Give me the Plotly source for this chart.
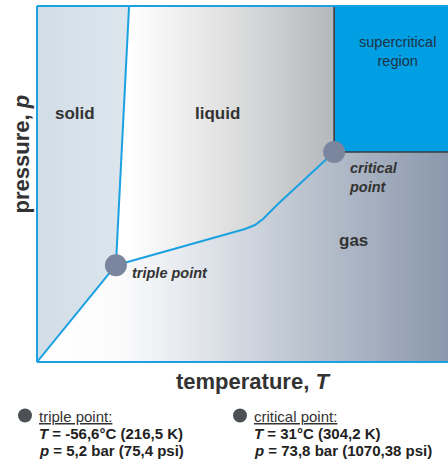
import plotly.graph_objects as go

# Schematic CO2 phase diagram (arbitrary units: T 0-100, p 0-100)
triple_T, triple_p = 19.2, 27.2
critical_T, critical_p = 72.3, 59.0

melting_T = [19.2, 22.4]
melting_p = [27.2, 100.0]

sublimation_T = [0.0, 19.2]
sublimation_p = [0.0, 27.2]

vapor_T = [19.2, 46.96, 50.61, 53.04, 54.99, 56.69, 58.64, 72.3]
vapor_p = [27.2, 36.10, 37.36, 38.48, 40.17, 42.13, 44.38, 59.0]

region_labels = ["solid", "liquid", "gas"]
region_T = [9.2, 44.0, 76.9]
region_p = [69.7, 69.7, 34.0]

footer_titles = ["triple point:", "critical point:"]
footer_T = ["-56,6°C (216,5 K)", "31°C (304,2 K)"]
footer_p = ["5,2 bar (75,4 psi)", "73,8 bar (1070,38 psi)"]

BLUE = "#1ba1e2"
FONT = "Liberation Sans, Arial, sans-serif"
TXT = "#333333"

fig = go.Figure()

# solid region
fig.add_trace(go.Scatter(
    x=[0, triple_T, melting_T[1], 0],
    y=[0, triple_p, melting_p[1], 100],
    fill="toself", mode="lines", line=dict(width=0),
    fillgradient=dict(type="horizontal",
                      colorscale=[[0, "#d1dde7"], [1, "#dde6ed"]]),
    hoverinfo="skip", showlegend=False))

# liquid region
liq_x = [melting_T[1], critical_T] + vapor_T[::-1]
liq_y = [100, 100] + vapor_p[::-1]
fig.add_trace(go.Scatter(
    x=liq_x, y=liq_y, fill="toself", mode="lines", line=dict(width=0),
    fillgradient=dict(type="horizontal",
                      colorscale=[[0, "#ffffff"], [0.45, "#e2e2e2"], [1, "#b4b8bb"]],
                      start=melting_T[1], stop=critical_T),
    hoverinfo="skip", showlegend=False))

# gas region
gas_x = [0, 100, 100] + vapor_T[::-1] + [0]
gas_y = [0, 0, critical_p] + vapor_p[::-1] + [0]
fig.add_trace(go.Scatter(
    x=gas_x, y=gas_y, fill="toself", mode="lines", line=dict(width=0),
    fillgradient=dict(type="horizontal",
                      colorscale=[[0, "#ffffff"], [0.2, "#fbfbfc"], [0.4, "#e1e5eb"],
                                  [0.64, "#bdc5d0"], [1, "#8a98ad"]],
                      start=0, stop=100),
    hoverinfo="skip", showlegend=False))

# supercritical region
fig.add_trace(go.Scatter(
    x=[critical_T, 100, 100, critical_T, critical_T],
    y=[critical_p, critical_p, 100, 100, critical_p],
    fill="toself", fillcolor="#009fe3", mode="lines", line=dict(width=0),
    hoverinfo="skip", showlegend=False))
fig.add_trace(go.Scatter(
    x=[critical_T, critical_T, 100], y=[100, critical_p, critical_p],
    mode="lines", line=dict(color="#3a3d40", width=1.6),
    hoverinfo="skip", showlegend=False))

# phase boundaries
for xs, ys in [(sublimation_T, sublimation_p), (melting_T, melting_p), (vapor_T, vapor_p)]:
    fig.add_trace(go.Scatter(x=xs, y=ys, mode="lines",
                             line=dict(color=BLUE, width=2),
                             hoverinfo="skip", showlegend=False))

# triple & critical points
fig.add_trace(go.Scatter(x=[triple_T, critical_T], y=[triple_p, critical_p], mode="markers",
                         marker=dict(size=22, color="#7a869d", line=dict(width=0)),
                         cliponaxis=False, hoverinfo="skip", showlegend=False))

# borders
shapes = [
    dict(type="line", xref="paper", yref="paper", x0=0, x1=0, y0=0, y1=1,
         line=dict(color=BLUE, width=2)),
    dict(type="line", xref="paper", yref="paper", x0=0, x1=1, y0=0, y1=0,
         line=dict(color=BLUE, width=2)),
    dict(type="line", xref="paper", yref="paper", x0=0, x1=1, y0=1, y1=1,
         line=dict(color=BLUE, width=2)),
]

def py2paper(py):
    return (362 - py) / 356

def px2paper(px):
    return (px - 37) / 411

annotations = []
for lab, tx, ty in zip(region_labels, region_T, region_p):
    annotations.append(dict(x=tx, y=ty, xref="x", yref="y", text="<b>%s</b>" % lab,
                            xanchor="center", yanchor="middle",
                            showarrow=False, font=dict(family=FONT, size=17, color=TXT)))
annotations.append(dict(x=87.6, y=87.1, xref="x", yref="y", text="supercritical<br>region",
                        xanchor="center", yanchor="middle",
                        showarrow=False, font=dict(family=FONT, size=14.5, color="#1f3344")))
annotations.append(dict(x=75.4, y=51.7, xref="x", yref="y", text="<b><i>critical<br>point</i></b>",
                        showarrow=False, xanchor="left", yanchor="middle", align="left",
                        font=dict(family=FONT, size=14.5, color=TXT)))
annotations.append(dict(x=22.6, y=25.0, xref="x", yref="y", text="<b><i>triple point</i></b>",
                        showarrow=False, xanchor="left", yanchor="middle",
                        font=dict(family=FONT, size=14.5, color=TXT)))
annotations.append(dict(x=px2paper(253), y=py2paper(381), xref="paper", yref="paper",
                        xanchor="center", yanchor="middle",
                        text="<b>temperature, <i>T</i></b>", showarrow=False,
                        font=dict(family=FONT, size=22, color=TXT)))
annotations.append(dict(x=px2paper(20.5), y=py2paper(154), xref="paper", yref="paper",
                        xanchor="center", yanchor="middle",
                        text="<b>pressure, <i>p</i></b>", showarrow=False, textangle=-90,
                        font=dict(family=FONT, size=22, color=TXT)))

footer_x = [37, 252]
circle_x = [25, 240]
for i in range(2):
    fx = px2paper(footer_x[i])
    annotations.append(dict(x=fx, y=py2paper(416), xref="paper", yref="paper",
                            xanchor="left", yanchor="middle",
                            text="<u>%s</u>" % footer_titles[i], showarrow=False,
                            font=dict(family=FONT, size=15, color=TXT)))
    annotations.append(dict(x=fx, y=py2paper(433), xref="paper", yref="paper",
                            xanchor="left", yanchor="middle",
                            text="<b><i>T</i> = %s</b>" % footer_T[i], showarrow=False,
                            font=dict(family=FONT, size=15, color="#222222")))
    annotations.append(dict(x=fx, y=py2paper(450), xref="paper", yref="paper",
                            xanchor="left", yanchor="middle",
                            text="<b><i>p</i> = %s</b>" % footer_p[i], showarrow=False,
                            font=dict(family=FONT, size=15, color="#222222")))
    shapes.append(dict(type="circle", xref="paper", yref="paper",
                       xsizemode="pixel", ysizemode="pixel",
                       xanchor=px2paper(circle_x[i]), yanchor=py2paper(415.5),
                       x0=-7, x1=7, y0=-7, y1=7,
                       fillcolor="#4d5156", line=dict(width=0)))

fig.update_layout(
    width=448, height=461,
    margin=dict(l=37, r=0, t=6, b=99),
    paper_bgcolor="white", plot_bgcolor="white",
    xaxis=dict(range=[0, 100], visible=False, fixedrange=True),
    yaxis=dict(range=[0, 100], visible=False, fixedrange=True),
    shapes=shapes, annotations=annotations,
    font=dict(family=FONT),
)

fig.write_html("out.html", config={"displayModeBar": False},
               post_script="document.body.style.margin='0';document.body.style.padding='0';")
